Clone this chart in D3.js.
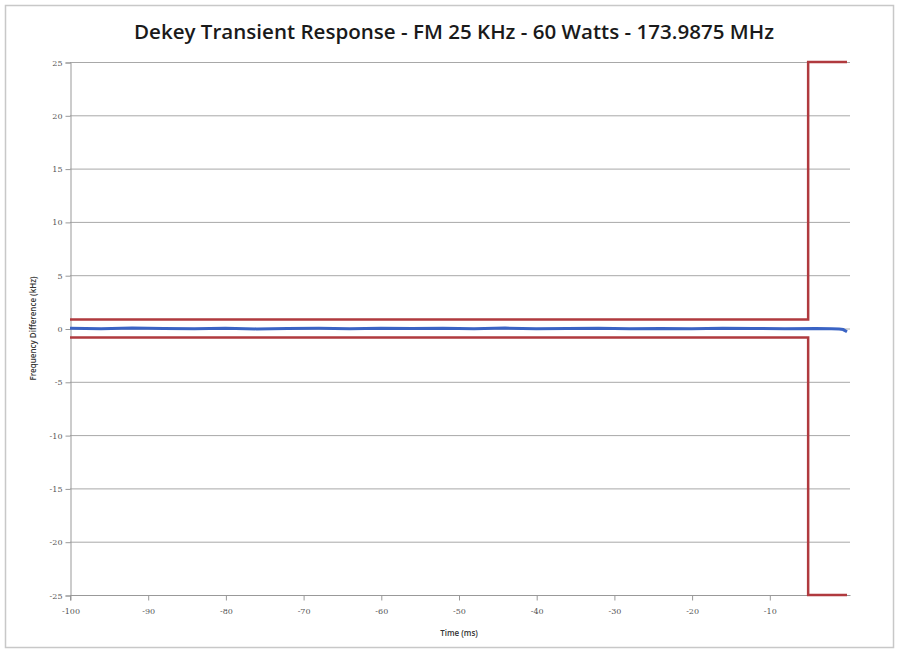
<!DOCTYPE html>
<html><head><meta charset="utf-8">
<script src="https://cdn.jsdelivr.net/npm/d3@7"></script>
<style>body{margin:0;background:#fff}svg{display:block}</style>
</head><body><svg id="c" width="900" height="652"></svg>
<script>
const title = "Dekey Transient Response - FM 25 KHz - 60 Watts - 173.9875 MHz";
const xLabel = "Time (ms)";
const yLabel = "Frequency Difference (kHz)";
const xTicks = [-100,-90,-80,-70,-60,-50,-40,-30,-20,-10];
const yTicks = [25,20,15,10,5,0,-5,-10,-15,-20,-25];
const maskUpperX = [-100,-5,-5,0];
const maskUpperY = [0.85,0.85,25,25];
const maskLowerX = [-100,-5,-5,0];
const maskLowerY = [-0.85,-0.85,-25,-25];
const blueX = [-100,-96,-92,-88,-84,-80,-76,-72,-68,-64,-60,-56,-52,-48,-44,-40,-36,-32,-28,-24,-20,-16,-12,-8,-4,-2,-1,-0.5,0];
const blueY = [0.02,-0.03,0.04,0.0,-0.02,0.03,-0.04,0.01,0.02,-0.03,0.03,-0.01,0.02,-0.02,0.04,-0.03,0.0,0.03,-0.02,0.01,-0.03,0.02,0.0,-0.02,0.01,-0.03,-0.05,-0.1,-0.3];

const svg = d3.select("#c");
const L=70,R=847,T=62,B=595;
const x = d3.scaleLinear().domain([-100,0]).range([L,R]);
const y = d3.scaleLinear().domain([-25,25]).range([B,T]);

svg.append("rect").attr("x",5.5).attr("y",5.5).attr("width",888).attr("height",642)
  .attr("fill","#fff").attr("stroke","#c8c8c8").attr("stroke-width",1.5);

svg.append("text").attr("x",454).attr("y",39).attr("text-anchor","middle")
  .attr("font-family","Open Sans, sans-serif").attr("font-weight",600).attr("font-size",20)
  .attr("textLength",640).attr("lengthAdjust","spacingAndGlyphs")
  .attr("fill","#1a1a1a").text(title);

// gridlines
svg.append("g").selectAll("line").data(yTicks).join("line")
  .attr("x1",L).attr("x2",R+3).attr("y1",d=>y(d)+0.5).attr("y2",d=>y(d)+0.5)
  .attr("stroke","#a8a8a8").attr("stroke-width",1);

const fmt = d=>String(d);
const yAxis = svg.append("g").attr("transform",`translate(${L+0.5},0.5)`)
  .call(d3.axisLeft(y).tickValues(yTicks).tickSize(5).tickFormat(fmt));
const xAxis = svg.append("g").attr("transform",`translate(0.5,${B+0.5})`)
  .call(d3.axisBottom(x).tickValues(xTicks).tickSize(5).tickFormat(fmt));
[yAxis,xAxis].forEach(a=>{
  a.select(".domain").attr("stroke","#999");
  a.selectAll(".tick line").attr("stroke","#999");
  a.selectAll("text").attr("font-family","DejaVu Serif, serif").attr("font-size",8).attr("fill","#555");
});
xAxis.select(".domain").attr("d",`M${L},5V0H${R+3}`);
xAxis.selectAll("text").attr("dy","1.3em");

svg.append("text").attr("transform",`translate(36,${(T+B)/2}) rotate(-90)`).attr("text-anchor","middle")
  .attr("font-family","Open Sans, sans-serif").attr("font-weight",600).attr("font-size",8).attr("fill","#333").text(yLabel);
svg.append("text").attr("x",459).attr("y",636).attr("text-anchor","middle")
  .attr("font-family","Open Sans, sans-serif").attr("font-weight",600).attr("font-size",8).attr("fill","#333").text(xLabel);

const line = d3.line().x(d=>x(d[0])).y(d=>y(d[1]));
svg.append("path").datum(blueX.map((v,i)=>[v,blueY[i]])).attr("d",line)
  .attr("fill","none").attr("stroke","#3a63c4").attr("stroke-width",3);
svg.append("path").datum(maskUpperX.map((v,i)=>[v,maskUpperY[i]])).attr("d",line)
  .attr("fill","none").attr("stroke","#b03a3e").attr("stroke-width",2.5);
svg.append("path").datum(maskLowerX.map((v,i)=>[v,maskLowerY[i]])).attr("d",line)
  .attr("fill","none").attr("stroke","#b03a3e").attr("stroke-width",2.5);
</script></body></html>
